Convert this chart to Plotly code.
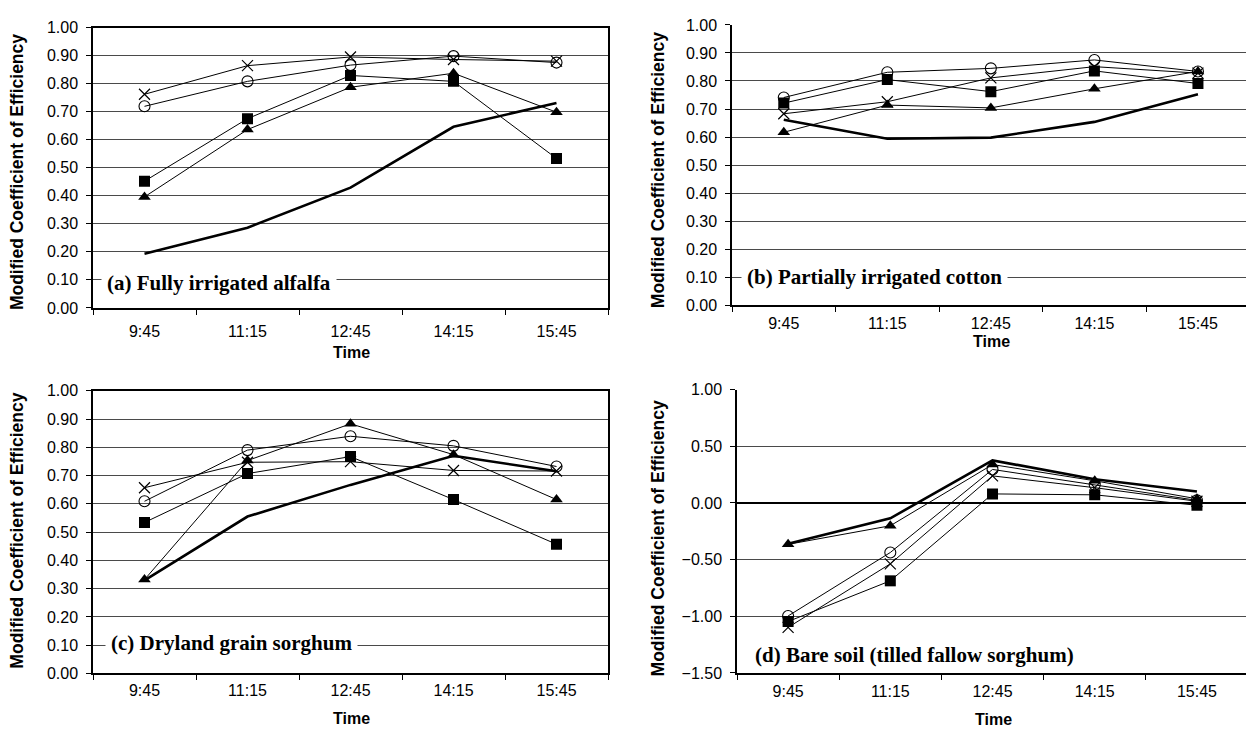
import plotly.graph_objects as go

times = ["9:45", "11:15", "12:45", "14:15", "15:45"]

# Panel (a) Fully irrigated alfalfa
a_cross = [0.762, 0.864, 0.895, 0.886, 0.880]
a_circle = [0.719, 0.808, 0.866, 0.898, 0.875]
a_square = [0.452, 0.675, 0.829, 0.808, 0.533]
a_triangle = [0.396, 0.636, 0.787, 0.837, 0.698]
a_thick = [0.193, 0.286, 0.429, 0.646, 0.731]

# Panel (b) Partially irrigated cotton
b_cross = [0.683, 0.726, 0.811, 0.851, 0.828]
b_circle = [0.741, 0.831, 0.845, 0.875, 0.834]
b_square = [0.721, 0.805, 0.762, 0.836, 0.791]
b_triangle = [0.617, 0.714, 0.704, 0.772, 0.834]
b_thick = [0.662, 0.594, 0.598, 0.654, 0.753]

# Panel (c) Dryland grain sorghum
c_cross = [0.657, 0.747, 0.749, 0.718, 0.716]
c_circle = [0.609, 0.790, 0.839, 0.805, 0.732]
c_square = [0.534, 0.707, 0.767, 0.615, 0.457]
c_triangle = [0.332, 0.753, 0.883, 0.774, 0.615]
c_thick = [0.329, 0.555, 0.667, 0.770, 0.715]

# Panel (d) Bare soil (tilled fallow sorghum)
d_cross = [-1.098, -0.537, 0.239, 0.135, 0.015]
d_circle = [-0.997, -0.437, 0.296, 0.161, 0.023]
d_square = [-1.046, -0.687, 0.080, 0.072, -0.020]
d_triangle = [-0.365, -0.201, 0.339, 0.196, 0.037]
d_thick = [-0.359, -0.135, 0.376, 0.210, 0.101]

panel_titles = ["(a) Fully irrigated alfalfa", "(b) Partially irrigated cotton",
                "(c) Dryland grain sorghum", "(d) Bare soil (tilled fallow sorghum)"]
y_title = "Modified Coefficient of Efficiency"
x_title = "Time"

W, H = 1246, 735

def px_x(p):
    return p / W

def px_y(p):
    return (H - p) / H

fig = go.Figure()

panels = [
    dict(cross=a_cross, circle=a_circle, square=a_square, tri=a_triangle, thick=a_thick),
    dict(cross=b_cross, circle=b_circle, square=b_square, tri=b_triangle, thick=b_thick),
    dict(cross=c_cross, circle=c_circle, square=c_square, tri=c_triangle, thick=c_thick),
    dict(cross=d_cross, circle=d_circle, square=d_square, tri=d_triangle, thick=d_thick),
]

for i, p in enumerate(panels):
    xa = "x" if i == 0 else f"x{i+1}"
    ya = "y" if i == 0 else f"y{i+1}"
    fig.add_trace(go.Scatter(x=times, y=p["thick"], mode="lines", xaxis=xa, yaxis=ya,
                             line=dict(color="black", width=2.6), name="Thick", showlegend=False))
    fig.add_trace(go.Scatter(x=times, y=p["cross"], mode="lines+markers", xaxis=xa, yaxis=ya,
                             line=dict(color="black", width=1),
                             marker=dict(symbol="x-thin-open", size=11, line=dict(color="black", width=1.2)),
                             name="Cross", showlegend=False))
    fig.add_trace(go.Scatter(x=times, y=p["circle"], mode="lines+markers", xaxis=xa, yaxis=ya,
                             line=dict(color="black", width=1),
                             marker=dict(symbol="circle-open", size=11, color="black", line=dict(color="black", width=1.1)),
                             name="Circle", showlegend=False))
    fig.add_trace(go.Scatter(x=times, y=p["square"], mode="lines+markers", xaxis=xa, yaxis=ya,
                             line=dict(color="black", width=1),
                             marker=dict(symbol="square", size=11, color="black"),
                             name="Square", showlegend=False))
    fig.add_trace(go.Scatter(x=times, y=p["tri"], mode="lines+markers", xaxis=xa, yaxis=ya,
                             line=dict(color="black", width=1),
                             marker=dict(symbol="triangle-up", size=11, color="black"),
                             name="Triangle", showlegend=False))

tickfont = dict(family="Liberation Sans, Arial, sans-serif", size=16, color="black")

# pixel geometry of each panel: (left, right, top, bottom, xrange_max, x label standoff)
geom = [
    (93, 608, 20, 307, 4.5, 8),
    (732, 1246, 17.3, 304.3, 4.464, 3),
    (93, 608, 391.8, 681.2, 4.5, 2),
    (737, 1246, 390.7, 680.7, 4.48, 3),
]

layout = dict(width=W, height=H, margin=dict(l=0, r=0, t=0, b=0),
              paper_bgcolor="white", plot_bgcolor="white", showlegend=False)

for i, (l, r, t, b, xmax, so) in enumerate(geom):
    xk = "xaxis" if i == 0 else f"xaxis{i+1}"
    yk = "yaxis" if i == 0 else f"yaxis{i+1}"
    ya = "y" if i == 0 else f"y{i+1}"
    xa = "x" if i == 0 else f"x{i+1}"
    mirror = i in (0, 2)
    layout[xk] = dict(domain=[px_x(l), px_x(r)], anchor=ya, type="category",
                      categoryorder="array", categoryarray=times,
                      range=[-0.5, xmax], tickson="boundaries", ticks="outside",
                      ticklen=5, tickcolor="black", tickwidth=1,
                      showline=True, linecolor="black", linewidth=1.5,
                      mirror=mirror, showgrid=False, zeroline=False,
                      tickfont=tickfont, ticklabelstandoff=so)
    if i == 3:
        yrange = [-1.5, 1.0]
        dtick = 0.5
    else:
        yrange = [0, 1.0]
        dtick = 0.1
    layout[yk] = dict(domain=[px_y(b), px_y(t)], anchor=xa, range=yrange,
                      dtick=dtick, tick0=0, tickformat=".2f", ticks="outside",
                      ticklen=5, tickcolor="black", tickwidth=1,
                      showline=True, linecolor="black", linewidth=1.5,
                      mirror=mirror, showgrid=True, gridcolor="#4a4a4a", gridwidth=1,
                      zeroline=(i == 3), zerolinecolor="black", zerolinewidth=2.2,
                      tickfont=tickfont, ticklabelstandoff=5)

fig.update_layout(**layout)

title_font = dict(family="Liberation Sans, Arial, sans-serif", size=17.5, color="black")
xtitle_font = dict(family="Liberation Sans, Arial, sans-serif", size=16, color="black")
label_font = dict(family="Liberation Serif, Times New Roman, serif", size=21, color="black")

annotations = []
# y titles
for (xp, yp) in [(17, 168), (658, 166), (17, 535), (658, 543)]:
    annotations.append(dict(text=f"<b>{y_title}</b>", x=px_x(xp), y=px_y(yp), xref="paper", yref="paper",
                            textangle=-90, showarrow=False, font=title_font,
                            xanchor="center", yanchor="middle"))
# x titles
for (xp, yp) in [(351, 353), (991, 341), (351, 727), (993, 728)]:
    annotations.append(dict(text=f"<b>{x_title}</b>", x=px_x(xp), y=px_y(yp), xref="paper", yref="paper",
                            showarrow=False, font=xtitle_font, xanchor="center", yanchor="middle"))
# panel labels
for (txt, xp, yp) in zip(panel_titles, [101, 741, 105, 749], [281, 275.7, 650, 662]):
    annotations.append(dict(text=f"<b>{txt}</b>", x=px_x(xp), y=px_y(yp), xref="paper", yref="paper",
                            showarrow=False, font=label_font, xanchor="left", yanchor="middle",
                            bgcolor="white", borderpad=5))

fig.update_layout(annotations=annotations)

fig.write_html("out.html")
